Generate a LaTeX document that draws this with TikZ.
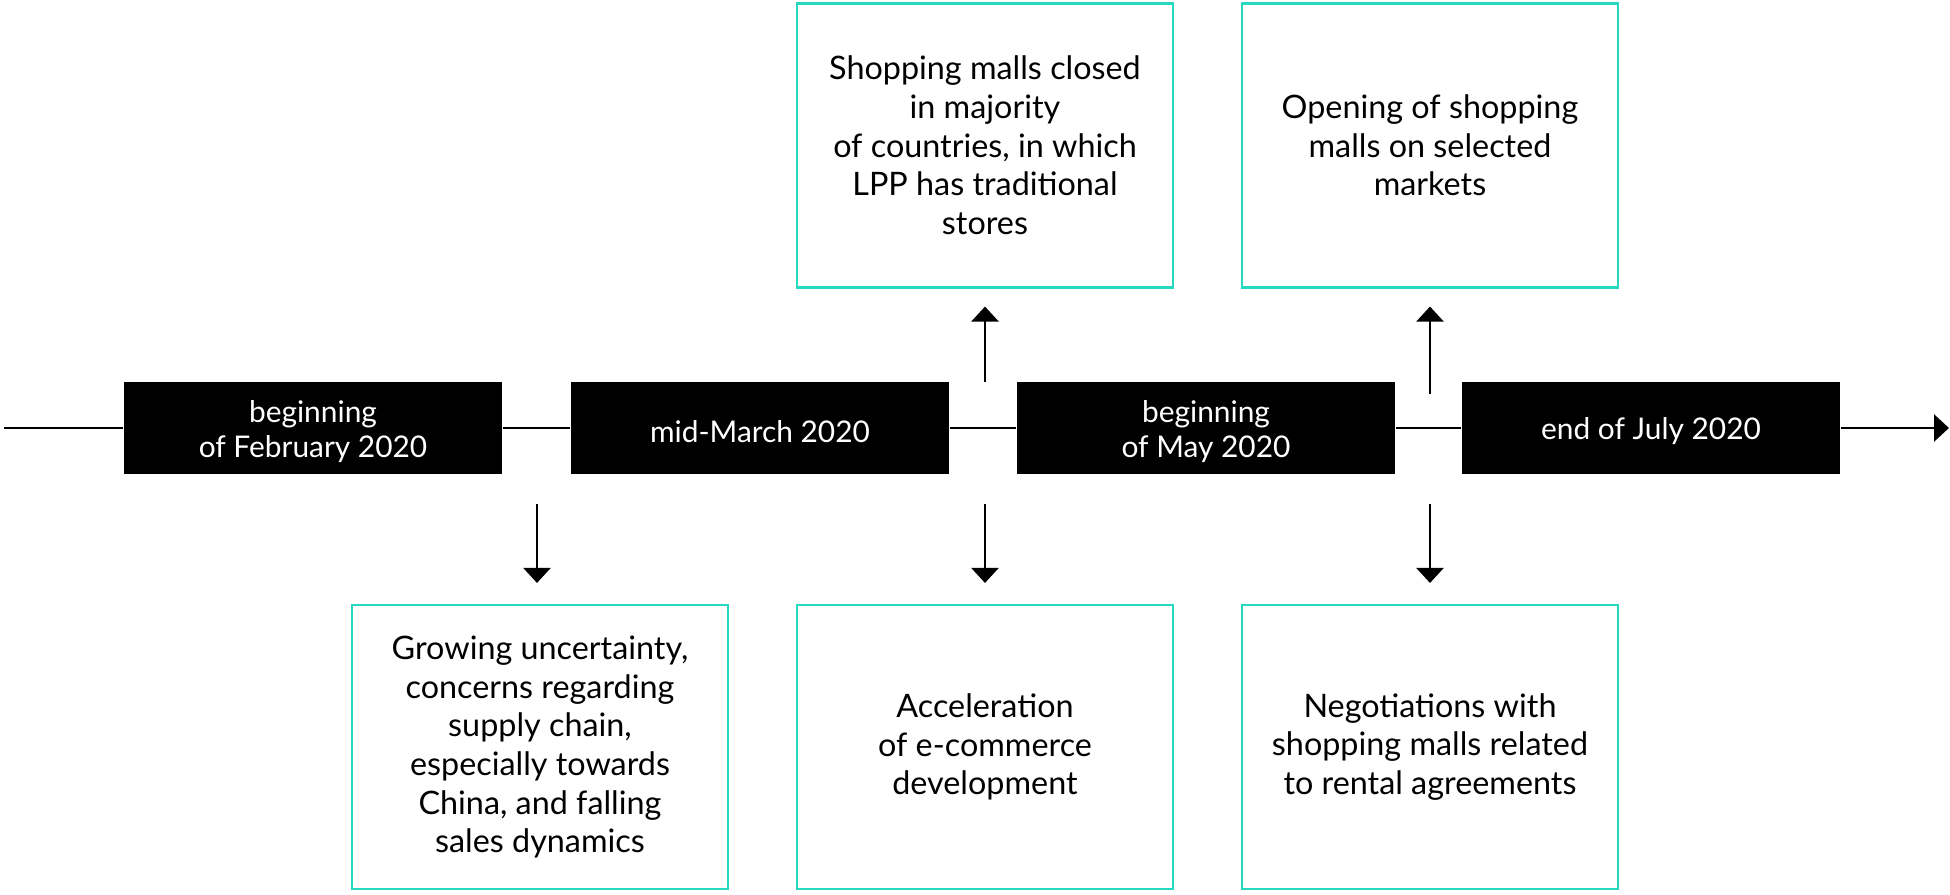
\documentclass[tikz,border=0pt]{standalone}
\usepackage{fontspec}
\setmainfont{Lato}
\usepackage{tikz}
\usetikzlibrary{positioning, arrows.meta, calc}
\usepackage{xcolor}
\definecolor{lppteal}{HTML}{24D9C0}
\tikzset{
  datebox/.style={fill=black, text=white, minimum width=3.78cm, minimum height=0.91cm,
    inner sep=0pt, align=center, font=\fontsize{8.5}{9.9}\selectfont},
  eventbox/.style={draw=lppteal, line width=0.6pt, minimum width=3.76cm, minimum height=2.84cm,
    inner sep=0pt, align=center, font=\fontsize{9.2}{11}\selectfont},
  arr/.style={line width=0.7pt, -{Triangle[width=0.27cm, length=0.15cm]}}
}
% date labels sit a little low in their boxes
\newcommand{\datetext}[1]{\raisebox{-1pt}[\height][\depth]{\shortstack{#1}}}

\begin{document}
\begin{tikzpicture}
  \useasboundingbox (0,0) rectangle (19.5,8.94);
  % timeline
  \node[datebox] (feb) at (3.13,4.66) {\datetext{beginning\\[-0.8pt]of February 2020}};
  \node[datebox] (mar) at (7.60,4.66) {\datetext{mid-March 2020}};
  \node[datebox] (may) at (12.06,4.66) {\datetext{beginning\\[-0.8pt]of May 2020}};
  \node[datebox] (jul) at (16.51,4.66) {\datetext{end of July 2020}};
  \coordinate (start) at (0.04,4.66);
  \coordinate (end) at (19.49,4.66);
  \draw[line width=0.7pt] (start) -- (feb) -- (mar) -- (may) -- (jul);
  \draw[arr] (jul) -- (end);

  % events above
  \node[eventbox] (closed) at (9.85,7.485) {Shopping malls closed\\in majority\\of countries, in which\\LPP has traditional\\stores};
  \node[eventbox] (opening) at (14.30,7.485) {Opening of shopping\\malls on selected\\markets};

  % events below
  \node[eventbox] (uncert) at (5.40,1.47) {Growing uncertainty,\\concerns regarding\\supply chain,\\especially towards\\China, and falling\\sales dynamics};
  \node[eventbox] (ecom) at (9.85,1.47) {Acceleration\\of e-commerce\\development};
  \node[eventbox] (negot) at (14.30,1.47) {Negotiations with\\shopping malls related\\to rental agreements};

  % pointers
  \draw[arr, shorten >=0.18cm] (closed.south |- mar.north) -- (closed.south);
  \draw[arr, shorten <=-0.12cm, shorten >=0.18cm] (opening.south |- may.north) -- (opening.south);
  \draw[arr, shorten <=0.30cm, shorten >=0.21cm] ($(uncert.north |- feb.south)+(-0.03,0)$) -- ($(uncert.north)+(-0.03,0)$);
  \draw[arr, shorten <=0.30cm, shorten >=0.21cm] (ecom.north |- mar.south) -- (ecom.north);
  \draw[arr, shorten <=0.30cm, shorten >=0.21cm] (negot.north |- may.south) -- (negot.north);
\end{tikzpicture}
\end{document}
